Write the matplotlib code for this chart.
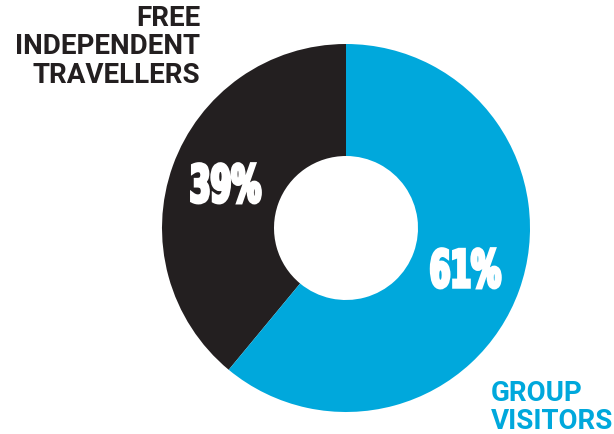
import matplotlib
matplotlib.use("Agg")
import matplotlib.pyplot as plt
from matplotlib.patheffects import AbstractPathEffect
from matplotlib.transforms import Affine2D

# ── Data ────────────────────────────────────────────────────
segments = ["FREE\nINDEPENDENT\nTRAVELLERS", "GROUP\nVISITORS"]
shares = [39, 61]
colors = ["#231f20", "#00a8dc"]


# condensed look for the big percentages: squeeze glyphs sideways
class Condense(AbstractPathEffect):
    def __init__(self, sx=0.6, stroke=0.0):
        super().__init__()
        self.sx = sx
        self.stroke = stroke

    def draw_path(self, renderer, gc, tpath, affine, rgbFace=None):
        ext = tpath.get_extents()
        mx = (ext.x0 + ext.x1) / 2
        squeeze = Affine2D().translate(-mx, 0).scale(self.sx, 1).translate(mx, 0)
        gc0 = renderer.new_gc()
        gc0.copy_properties(gc)
        if self.stroke:
            gc0.set_linewidth(self.stroke)
            gc0.set_foreground(rgbFace)
            gc0.set_joinstyle("miter")
        renderer.draw_path(gc0, tpath, squeeze + affine, rgbFace)
        gc0.restore()


W, H = 614, 434
fig = plt.figure(figsize=(W / 100, H / 100), dpi=100, facecolor="white")
ax = fig.add_axes([0, 0, 1, 1])

cx, cy = 346, H - 228
R, r = 184, 72

ax.pie(shares, colors=colors, startangle=90, counterclock=True,
       center=(cx, cy), radius=R, frame=True,
       wedgeprops=dict(width=R - r, linewidth=0))
ax.set_xlim(0, W)
ax.set_ylim(0, H)
ax.set_aspect("equal")
ax.axis("off")

pct_font = dict(family="DejaVu Sans", fontweight="bold", fontsize=37,
                color="white", ha="center", va="baseline",
                path_effects=[Condense(0.58, 2.5)])
ax.text(225, H - 202, f"{shares[0]}%", **pct_font)
ax.text(465, H - 287, f"{shares[1]}%", **pct_font)

# segment labels, one text per line so the pitch is exact
lab_font = dict(family=["Roboto", "DejaVu Sans"], fontweight="bold",
                fontsize=20, va="baseline")
for i, line in enumerate(segments[0].split("\n")):
    ax.text(200, H - 26 - 28.5 * i, line, ha="right",
            color=colors[0], **lab_font)
for i, line in enumerate(segments[1].split("\n")):
    ax.text(491, H - 401 - 28 * i, line, ha="left",
            color=colors[1], **lab_font)

fig.savefig("out.png", dpi=100, facecolor="white")
